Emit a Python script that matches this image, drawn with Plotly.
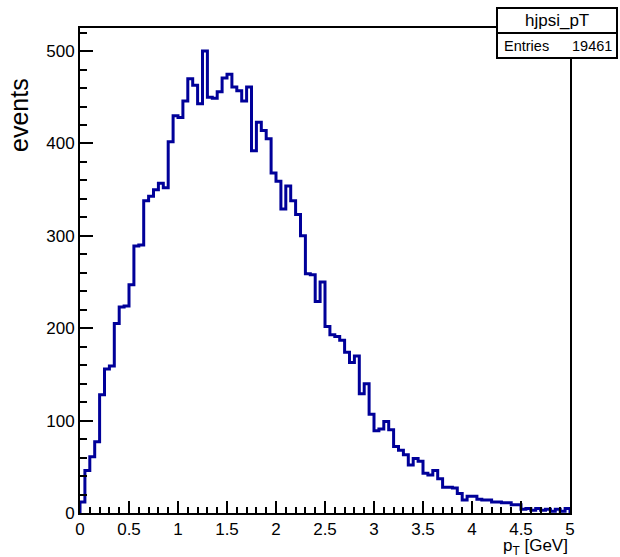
import numpy as np
import plotly.graph_objects as go

# ---- data ----
bin_edges_lo = 0.0
bin_width = 0.05
counts = [12, 46, 61, 77, 128, 156, 159, 205, 223, 224,
          247, 289, 290, 338, 343, 350, 357, 352, 402, 430,
          428, 446, 470, 463, 443, 500, 450, 449, 456, 471,
          475, 461, 457, 446, 461, 392, 423, 414, 405, 368,
          359, 329, 354, 338, 323, 300, 259, 258, 229, 250,
          202, 193, 191, 187, 174, 163, 170, 129, 140, 107,
          89, 91, 99, 90, 72, 68, 63, 52, 59, 56,
          43, 41, 46, 37, 28, 28, 27, 21, 14, 18,
          18, 15, 14, 14, 12, 12, 11, 11, 9, 9,
          4, 5, 3, 5, 3, 4, 2, 4, 2, 5]
hist_name = "hjpsi_pT"
entries = 19461
x_ticks = [0, 0.5, 1, 1.5, 2, 2.5, 3, 3.5, 4, 4.5, 5]
y_ticks = [0, 100, 200, 300, 400, 500]

edges = bin_edges_lo + bin_width * np.arange(len(counts) + 1)
xs = np.concatenate([[edges[0]], edges, [edges[-1]]])
ys = np.concatenate([[0], counts, [counts[-1], 0]])

# ---- figure geometry ----
W, H = 620, 557
L, R, T, B = 80, 50, 28, 44
pw, ph = W - L - R, H - T - B


def px(x):
    return (x - L) / pw


def py(y):
    return (H - B - y) / ph


FONT = "Liberation Sans"

fig = go.Figure()
fig.add_trace(go.Scatter(x=xs, y=ys, mode="lines", line_shape="hv",
                         line=dict(color="#000099", width=3),
                         hoverinfo="skip", showlegend=False))

axis_common = dict(showline=True, linecolor="black", linewidth=2, mirror=True,
                   showgrid=False, zeroline=False, ticks="inside",
                   tickcolor="black", tickwidth=2,
                   tickfont=dict(family=FONT, size=17, color="black"))

fig.update_xaxes(range=[0, 5], tickvals=x_ticks, ticklen=12,
                 minor=dict(dtick=0.1, tick0=0, ticks="inside", ticklen=6,
                            tickwidth=2, tickcolor="black"),
                 **axis_common)
fig.update_yaxes(range=[0, 525], tickvals=y_ticks, ticklen=13,
                 minor=dict(dtick=20, tick0=0, ticks="inside", ticklen=7,
                            tickwidth=2, tickcolor="black"),
                 **axis_common)

annotations = [
    dict(text="events", textangle=-90, x=px(19), y=py(115), xref="paper", yref="paper",
         xanchor="center", yanchor="middle", showarrow=False,
         font=dict(family=FONT, size=25, color="black")),
    dict(text="p<sub>T</sub> [GeV]", x=1.0, y=py(547), xref="paper", yref="paper",
         xanchor="right", yanchor="middle", showarrow=False,
         font=dict(family=FONT, size=17, color="black")),
    dict(text=hist_name, x=px(557), y=py(20.5), xref="paper", yref="paper",
         xanchor="center", yanchor="middle", showarrow=False,
         font=dict(family=FONT, size=17, color="black")),
    dict(text="Entries", x=px(502), y=py(46), xref="paper", yref="paper",
         xanchor="left", yanchor="middle", showarrow=False,
         font=dict(family=FONT, size=14.5, color="black")),
    dict(text=str(entries), x=px(614), y=py(46), xref="paper", yref="paper",
         xanchor="right", yanchor="middle", showarrow=False,
         font=dict(family=FONT, size=14.5, color="black")),
]

shapes = [
    dict(type="rect", xref="paper", yref="paper", x0=px(497), x1=px(617),
         y0=py(58), y1=py(8), line=dict(color="black", width=2),
         fillcolor="white", layer="above"),
    dict(type="line", xref="paper", yref="paper", x0=px(497), x1=px(617),
         y0=py(33), y1=py(33), line=dict(color="black", width=2), layer="above"),
]

fig.update_layout(width=W, height=H, margin=dict(l=L, r=R, t=T, b=B),
                  paper_bgcolor="white", plot_bgcolor="white",
                  annotations=annotations, shapes=shapes, showlegend=False)

fig.write_html("out.html")
